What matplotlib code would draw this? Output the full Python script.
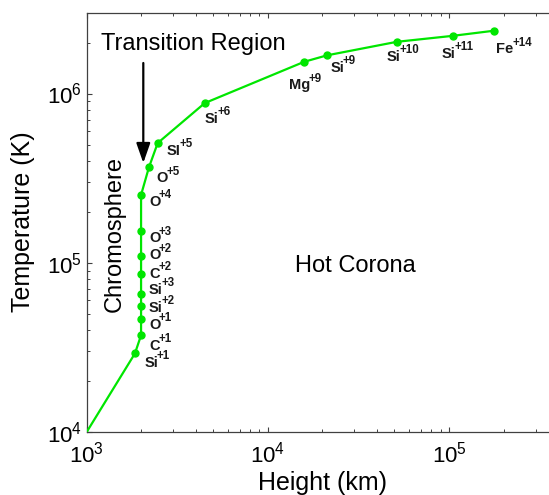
import matplotlib
matplotlib.use('Agg')
import matplotlib.pyplot as plt
from matplotlib.ticker import LogLocator, NullFormatter

plt.rcParams['font.family'] = ['Liberation Sans', 'DejaVu Sans']
plt.rcParams['mathtext.default'] = 'regular'

# ---- data ----
heights_km = [1000, 1850, 2000, 2000, 2000, 2000, 2000, 2000, 2000, 2000,
              2210, 2470, 4490, 15900, 21200, 51600, 104700, 178000]
temps_K = [1.0e4, 2.92e4, 3.74e4, 4.65e4, 5.54e4, 6.59e4, 8.64e4, 1.096e5,
           1.539e5, 2.52e5, 3.666e5, 5.10e5, 8.78e5, 1.54e6, 1.68e6,
           2.02e6, 2.19e6, 2.35e6]
ion_elements = ['', 'Si', 'C', 'O', 'Si', 'Si', 'C', 'O', 'O', 'O', 'O',
                'SI', 'Si', 'Mg', 'Si', 'Si', 'Si', 'Fe']
ion_charges = ['', '+1', '+1', '+1', '+2', '+3', '+2', '+2', '+3', '+4',
               '+5', '+5', '+6', '+9', '+9', '+10', '+11', '+14']
# label offsets from marker, in pixels (right, down)
label_offsets_px = [None, (9.3, 13.4), (8, 15), (8, 9.3), (8, 5.7), (8, 0),
                    (8, 4), (8, 3.3), (8, 11.3), (8, 10.7), (7.7, 15),
                    (9.3, 11.7), (0.3, 19.7), (-15, 27.6), (3.3, 16.7),
                    (-10, 19), (-10.6, 21.7), (2, 22.8)]
xlim = (1e3, 3.56e5)
ylim = (1e4, 3e6)

W, H = 549, 495
fig = plt.figure(figsize=(W / 100, H / 100), dpi=100)
ax_l, ax_r, ax_t, ax_b = 86.5, 549.0, 12.7, 432.3
ax = fig.add_axes([ax_l / W, (H - ax_b) / H, (ax_r - ax_l) / W, (ax_b - ax_t) / H])

green = '#00e600'
ax.plot(heights_km, temps_K, color=green, lw=1.6, zorder=3)
ax.plot(heights_km[1:], temps_K[1:], 'o', color=green, ms=5, zorder=4)

ax.set_xscale('log')
ax.set_yscale('log')
ax.set_xlim(*xlim)
ax.set_ylim(*ylim)

px2pt = 0.72
lab_color = '#1a1a1a'
for h, t, el, ch, off in zip(heights_km, temps_K, ion_elements, ion_charges, label_offsets_px):
    if not el:
        continue
    base = ax.annotate(el, xy=(h, t), xytext=(off[0] * px2pt, -off[1] * px2pt),
                       textcoords='offset points', ha='left', va='baseline',
                       fontsize=10.5, fontweight='bold', color=lab_color, zorder=5)
    ax.annotate(ch, xy=(1, 0), xycoords=base, xytext=(-1.2, 7.8),
                textcoords='offset points', ha='left', va='baseline',
                fontsize=8.3, fontweight='bold', color=lab_color, zorder=5)

ax_w = ax_r - ax_l
ax_h = ax_b - ax_t
def axpos(px, py):
    return ((px - ax_l) / ax_w, (ax_b - py) / ax_h)

ax.text(*axpos(101, 50), 'Transition Region', transform=ax.transAxes,
        ha='left', va='baseline', fontsize=17)
ax.text(*axpos(355, 272), 'Hot Corona', transform=ax.transAxes,
        ha='center', va='baseline', fontsize=17)
ax.text(*axpos(115, 233.5), 'Chromosphere', transform=ax.transAxes,
        ha='center', va='center', rotation=90, fontsize=17)
ax.annotate('', xy=axpos(143.3, 163), xytext=axpos(143.3, 63),
            xycoords='axes fraction', textcoords='axes fraction',
            arrowprops=dict(arrowstyle='-|>,head_length=1.2,head_width=0.42',
                            lw=1.6, color='black', mutation_scale=10,
                            shrinkA=0, shrinkB=0))

ax.set_xlabel('Height (km)', fontsize=18)
ax.set_ylabel('Temperature (K)', fontsize=18)
ax.xaxis.set_label_coords(*axpos(322, 471))
ax.yaxis.set_label_coords(*axpos(35, 222))

for s in ['left', 'bottom', 'top']:
    ax.spines[s].set_color('#404040')
    ax.spines[s].set_linewidth(0.9)
ax.spines['right'].set_visible(False)

ax.xaxis.set_minor_locator(LogLocator(base=10, subs=range(2, 10), numticks=20))
ax.yaxis.set_minor_locator(LogLocator(base=10, subs=range(2, 10), numticks=20))
ax.xaxis.set_minor_formatter(NullFormatter())
ax.yaxis.set_minor_formatter(NullFormatter())
ax.tick_params(which='both', direction='in', top=True, right=False, color='#404040',
               labelsize=16)
ax.tick_params(axis='x', which='major', pad=7)
ax.tick_params(which='major', length=3.6, width=0.8)
ax.tick_params(which='minor', length=2.2, width=0.7)

fig.savefig('out.png', dpi=100)
